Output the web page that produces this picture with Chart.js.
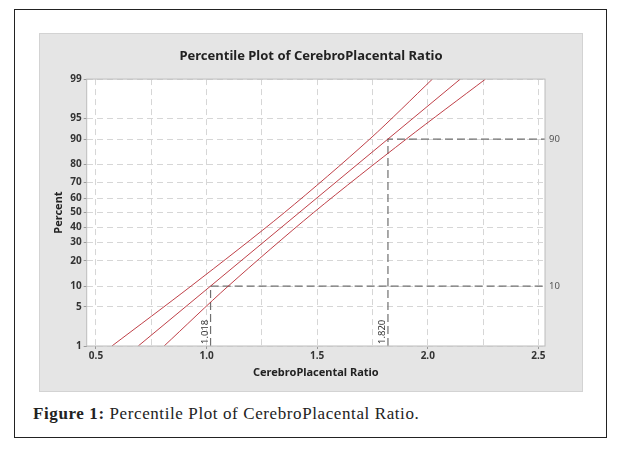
<!DOCTYPE html>
<html>
<head>
<meta charset="utf-8">
<script src="https://cdn.jsdelivr.net/npm/chart.js@4.4.1/dist/chart.umd.min.js"></script>
<style>
  body { margin: 0; background: #fff; width: 624px; height: 450px; position: relative; overflow: hidden; }
  #frame { position: absolute; left: 14px; top: 9px; width: 593px; height: 429px; box-sizing: border-box; border: 1.5px solid #222; }
  #panel { position: absolute; left: 39px; top: 33px; width: 544px; height: 359px; box-sizing: border-box; background: #e5e5e5; border: 1px solid #d3d3d3; }
  #chart { position: absolute; left: 39px; top: 33px; }
  #caption { position: absolute; left: 33px; top: 404px; line-height: 20px; font-family: "Liberation Serif", serif; font-size: 17px; letter-spacing: 0.6px; color: #222; white-space: nowrap; }
</style>
</head>
<body>
<div id="frame"></div>
<div id="panel"></div>
<canvas id="chart" width="544" height="359"></canvas>
<div id="caption"><b>Figure 1:</b> Percentile Plot of CerebroPlacental Ratio.</div>
<script>
// percent ticks on the probability axis
const pctTicks = [1, 5, 10, 20, 30, 40, 50, 60, 70, 80, 90, 95, 99];
const xGridValues = [0.5, 0.75, 1, 1.25, 1.5, 1.75, 2, 2.25, 2.5];
const xLabelValues = [0.5, 1, 1.5, 2, 2.5];

// fitted line and its confidence bounds (x read at given percents)
const fitPct = [1, 10, 90, 99];
const fitX = [0.691, 1.018, 1.820, 2.147];
const boundPct = [1, 10, 50, 90, 99];
const upperX = [0.572, 0.930, 1.352, 1.738, 2.021];
const lowerX = [0.808, 1.098, 1.484, 1.903, 2.261];

// reference percentiles
const refPct = [10, 90];
const refX = [1.018, 1.820];

const X_MIN = 0.458, X_MAX = 2.53, P_MIN = 1, P_MAX = 99;
const FONT = '"Noto Sans", "Open Sans", sans-serif';

// inverse normal cdf (Acklam)
function probit(p) {
    const a = [-3.969683028665376e+01, 2.209460984245205e+02, -2.759285104469687e+02, 1.383577518672690e+02, -3.066479806614716e+01, 2.506628277459239e+00];
    const b = [-5.447609879822406e+01, 1.615858368580409e+02, -1.556989798598866e+02, 6.680131188771972e+01, -1.328068155288572e+01];
    const c = [-7.784894002430293e-03, -3.223964580411365e-01, -2.400758277161838e+00, -2.549732539343734e+00, 4.374664141464968e+00, 2.938163982698783e+00];
    const d = [7.784695709041462e-03, 3.224671290700398e-01, 2.445134137142996e+00, 3.754408661907416e+00];
    const pl = 0.02425;
    if (p < pl) {
        const q = Math.sqrt(-2 * Math.log(p));
        return (((((c[0]*q+c[1])*q+c[2])*q+c[3])*q+c[4])*q+c[5]) / ((((d[0]*q+d[1])*q+d[2])*q+d[3])*q+1);
    }
    if (p > 1 - pl) {
        const q = Math.sqrt(-2 * Math.log(1 - p));
        return -(((((c[0]*q+c[1])*q+c[2])*q+c[3])*q+c[4])*q+c[5]) / ((((d[0]*q+d[1])*q+d[2])*q+d[3])*q+1);
    }
    const q = p - 0.5, r = q * q;
    return (((((a[0]*r+a[1])*r+a[2])*r+a[3])*r+a[4])*r+a[5])*q / (((((b[0]*r+b[1])*r+b[2])*r+b[3])*r+b[4])*r+1);
}

function ncdf(z) {
    const t = 1 / (1 + 0.3275911 * Math.abs(z) / Math.SQRT2);
    const e = 1 - (((((1.061405429*t - 1.453152027)*t) + 1.421413741)*t - 0.284496736)*t + 0.254829592)*t * Math.exp(-z*z/2);
    return z >= 0 ? (1 + e) / 2 : (1 - e) / 2;
}

// normal probability scale, values in percent
class ProbitScale extends Chart.Scale {
    static id = 'probit';
    static defaults = {};
    determineDataLimits() {
        this.min = this.options.min;
        this.max = this.options.max;
    }
    buildTicks() {
        return pctTicks.map(v => ({ value: v }));
    }
    configure() {
        super.configure();
        this._lo = probit(this.min / 100);
        this._hi = probit(this.max / 100);
    }
    getLabelForValue(v) {
        return String(v);
    }
    getPixelForValue(v) {
        return this.getPixelForDecimal((probit(v / 100) - this._lo) / (this._hi - this._lo));
    }
    getValueForPixel(px) {
        return 100 * ncdf(this._lo + this.getDecimalForPixel(px) * (this._hi - this._lo));
    }
}
Chart.register(ProbitScale);

const pts = (xs, ps) => xs.map((x, i) => ({ x: x, y: ps[i] }));
const redLine = { borderColor: 'rgba(180,30,40,0.85)', borderWidth: 1, pointRadius: 0 };
const refLine = { borderColor: '#6f6f6f', borderWidth: 1.2, borderDash: [8, 4], pointRadius: 0, tension: 0 };

const datasets = [
    { ...redLine, tension: 0.3, data: pts(upperX, boundPct) },
    { ...redLine, tension: 0, data: pts(fitX, fitPct) },
    { ...redLine, tension: 0.3, data: pts(lowerX, boundPct) },
];
refX.forEach((x, i) => {
    datasets.push({ ...refLine, data: [{ x: x, y: P_MIN }, { x: x, y: refPct[i] }, { x: X_MAX, y: refPct[i] }] });
});

// white plot background
const plotBg = {
    id: 'plotBg',
    beforeDraw(chart) {
        const { ctx, chartArea: a } = chart;
        ctx.save();
        ctx.fillStyle = '#fff';
        ctx.fillRect(a.left, a.top, a.right - a.left, a.bottom - a.top);
        ctx.restore();
    }
};

const refLabels = {
    id: 'refLabels',
    afterDatasetsDraw(chart) {
        const { ctx, chartArea: a, scales: { x, y } } = chart;
        ctx.save();
        ctx.strokeStyle = '#bcbcbc';
        ctx.lineWidth = 1;
        ctx.strokeRect(a.left, a.top, a.right - a.left, a.bottom - a.top);
        ctx.font = '9.5px ' + FONT;
        refPct.forEach((p, i) => {
            ctx.fillStyle = '#555';
            ctx.textAlign = 'left';
            ctx.textBaseline = 'middle';
            ctx.fillText(String(p), a.right + 4, y.getPixelForValue(p));
            ctx.save();
            ctx.translate(x.getPixelForValue(refX[i]) - 3, a.bottom - 2);
            ctx.rotate(-Math.PI / 2);
            ctx.textBaseline = 'alphabetic';
            ctx.fillStyle = '#333';
            ctx.fillText(refX[i].toFixed(3), 0, 0);
            ctx.restore();
        });
        ctx.restore();
    }
};

const tickFont = { family: FONT, size: 10, weight: 'bold' };
const titleFont = { family: FONT, size: 11, weight: 'bold' };

new Chart(document.getElementById('chart'), {
    type: 'line',
    data: { datasets: datasets },
    options: {
        responsive: false,
        animation: false,
        layout: { padding: 0 },
        plugins: {
            legend: { display: false },
            tooltip: { enabled: false },
            title: {
                display: true,
                text: 'Percentile Plot of CerebroPlacental Ratio',
                color: '#222',
                font: { family: FONT, size: 13, weight: 'bold' },
                padding: { top: 15.5, bottom: 15 }
            }
        },
        scales: {
            x: {
                type: 'linear',
                min: X_MIN,
                max: X_MAX,
                afterBuildTicks: s => { s.ticks = xGridValues.map(v => ({ value: v })); },
                afterFit: s => { s.height = 46; },
                ticks: {
                    autoSkip: false, maxRotation: 0, padding: 1, color: '#333', font: tickFont,
                    callback: v => xLabelValues.includes(v) ? v.toFixed(1) : ''
                },
                grid: {
                    color: '#d6d6d6', lineWidth: 1, tickLength: 3,
                    tickColor: c => xLabelValues.includes(c.tick.value) ? '#9a9a9a' : 'rgba(0,0,0,0)'
                },
                border: { display: false, dash: [6, 4] },
                title: { display: true, text: 'CerebroPlacental Ratio', color: '#222', font: titleFont, padding: { top: 0, bottom: 13 } }
            },
            y: {
                type: 'probit',
                position: 'left',
                min: P_MIN,
                max: P_MAX,
                afterFit: s => { s.width = 47.7; },
                ticks: { autoSkip: false, padding: 2, color: '#333', font: tickFont },
                grid: { color: '#d6d6d6', lineWidth: 1, tickLength: 3, tickColor: '#9a9a9a' },
                border: { display: false, dash: [6, 4] },
                title: { display: true, text: 'Percent', color: '#222', font: titleFont, padding: { top: 13, bottom: 0 } }
            },
            yR: {
                type: 'linear',
                position: 'right',
                afterFit: s => { s.width = 38; },
                ticks: { display: false },
                grid: { display: false },
                border: { display: false }
            }
        }
    },
    plugins: [plotBg, refLabels]
});
</script>
</body>
</html>
